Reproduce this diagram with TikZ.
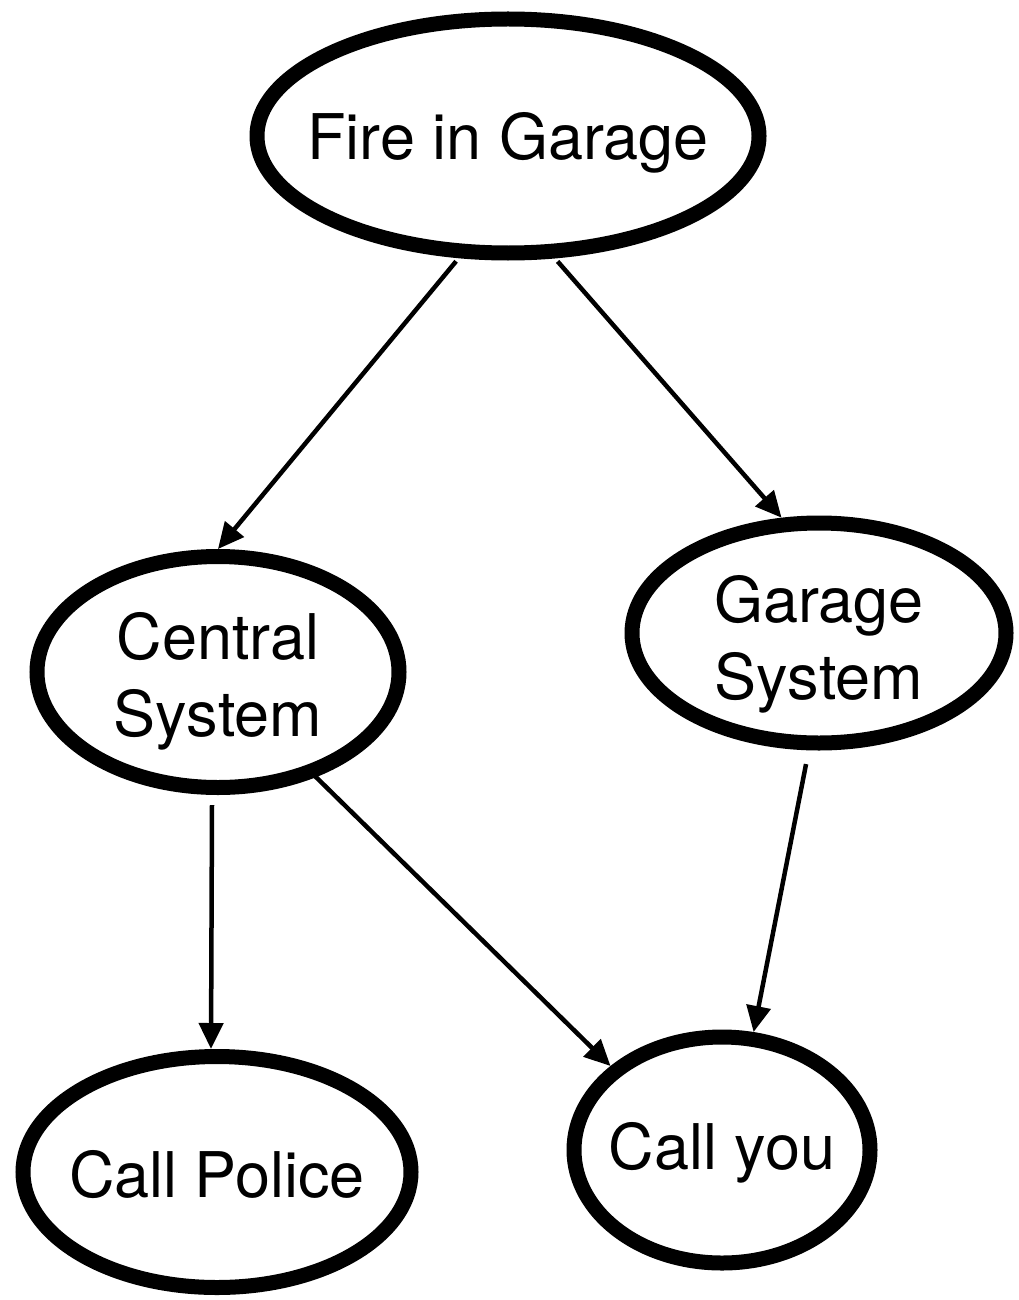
\documentclass[tikz,border=0pt]{standalone}
\usepackage{fontspec}
\setmainfont{TeX Gyre Heros}
\usepackage{tikz}
\usetikzlibrary{arrows.meta,positioning,shapes.geometric,calc}
% text that does not widen its ellipse
\newcommand{\evtext}[2][0pt]{\makebox[0pt]{\raisebox{-#1}[\height][\depth]{\begin{tabular}{@{}c@{}}#2\end{tabular}}}}

\begin{document}
\begin{tikzpicture}[x=1pt,y=-1pt,
  event/.style={draw,ellipse,line width=15pt,inner sep=0pt,font=\fontsize{63}{77}\selectfont},
  link/.style={line width=4.5pt,-{Triangle[length=26pt,width=24pt]}}]
  \useasboundingbox (0,0) rectangle (1018,1300);
  \node[event,minimum width=502pt,minimum height=234pt] (fire) at (508,136) {\evtext[8pt]{Fire in Garage}};
  \node[event,minimum width=362pt,minimum height=231pt] (central) at (218,672) {\evtext[11pt]{Central\\System}};
  \node[event,minimum width=374pt,minimum height=220pt] (garage) at (819,633) {\evtext[13pt]{Garage\\System}};
  \node[event,minimum width=388pt,minimum height=231pt] (police) at (217,1172) {\evtext[10pt]{Call Police}};
  \node[event,minimum width=296pt,minimum height=226pt] (you) at (722,1150) {\evtext[4pt]{Call you}};
  \draw[link,shorten <=4pt] (fire.-112) -- (central.90);
  \draw[link,shorten <=4pt] (fire.-69) -- (garage.108);
  \draw[link] ([xshift=-6pt,yshift=-10pt]central.south) -- ([xshift=-6pt]police.north);
  \draw[line width=4.5pt,{Bar[width=16pt,line width=4.5pt]}-{Triangle[length=26pt,width=24pt]},shorten <=-10pt] (central.-47) -- (you.143);
  \draw[link,shorten <=14pt] (garage.-95) -- (you.75);
\end{tikzpicture}
\end{document}
